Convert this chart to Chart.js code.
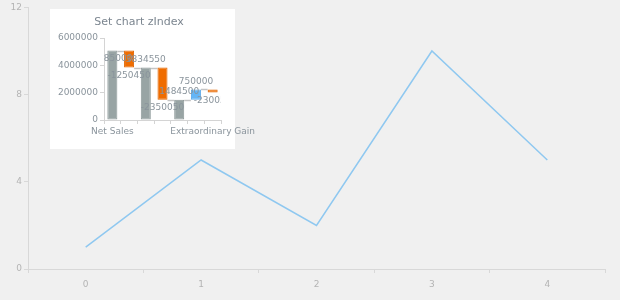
<!DOCTYPE html>
<html>
<head>
<meta charset="utf-8">
<script src="https://cdn.jsdelivr.net/npm/chart.js@4.4.1/dist/chart.umd.min.js"></script>
<style>
  html, body { margin: 0; padding: 0; background: #f0f0f0; }
  #wrap { position: relative; width: 620px; height: 300px; }
  #main { position: absolute; left: 0; top: 0; }
  #insetBox { position: absolute; left: 50px; top: 9px; width: 185px; height: 140px; background: #fff; }
  #inset { position: absolute; left: 50px; top: 9px; }
</style>
</head>
<body>
<div id="wrap">
  <canvas id="main" width="620" height="300"></canvas>
  <div id="insetBox"></div>
  <canvas id="inset" width="230" height="140"></canvas>
</div>
<script>
// main line chart
const lineLabels = ["0", "1", "2", "3", "4"];
const lineValues = [1, 5, 2, 10, 5];
const yTicks = [0, 4, 8, 12];

// inset waterfall (null = running total)
const wfCategories = ["Net Sales", "Cost of Goods Sold", "Gross Income", "Operating Expenses", "Operating Income", "Other Income", "Extraordinary Gain"];
const wfValues = [5085000, -1250450, null, -2350050, null, 750000, -230050];
const wfTicks = [0, 2000000, 4000000, 6000000];

const tickFont = { family: "DejaVu Sans", size: 9 };

new Chart(document.getElementById("main"), {
  type: "line",
  data: {
    labels: lineLabels,
    datasets: [{
      data: lineValues,
      borderColor: "#8fc8f0",
      borderWidth: 1.5,
      pointRadius: 0,
      tension: 0,
    }],
  },
  options: {
    responsive: false,
    animation: false,
    layout: { padding: { top: 7, right: 15, left: 0, bottom: 0 } },
    plugins: { legend: { display: false }, tooltip: { enabled: false } },
    scales: {
      x: {
        offset: true,
        grid: { offset: true, drawOnChartArea: false, tickLength: 4, color: "#d8d8d8" },
        border: { color: "#d8d8d8" },
        ticks: { color: "#b4b4b4", font: tickFont, padding: 6 },
        afterFit: (s) => { s.height = 31; },
      },
      y: {
        min: 0,
        max: 12,
        afterBuildTicks: (s) => { s.ticks = yTicks.map((v) => ({ value: v })); },
        grid: { drawOnChartArea: false, tickLength: 4, color: "#d8d8d8" },
        border: { color: "#d8d8d8" },
        ticks: { color: "#b4b4b4", font: tickFont, padding: 2 },
        afterFit: (s) => { s.width = 28; },
      },
    },
  },
});

// build floating bars from the waterfall values
let running = 0;
const wfRanges = [];
const wfKinds = [];
const wfLabels = [];
wfValues.forEach((v, i) => {
  if (v === null) {
    wfRanges.push([0, running]);
    wfKinds.push("total");
    wfLabels.push(running);
  } else if (i === 0) {
    running = v;
    wfRanges.push([0, v]);
    wfKinds.push("total");
    wfLabels.push(v);
  } else {
    wfRanges.push([running, running + v]);
    running += v;
    wfKinds.push(v < 0 ? "down" : "up");
    wfLabels.push(v);
  }
});
const fillFor = { total: "#98a4a4", down: "#ef6c00", up: "#64b5f6" };
const edgeFor = { total: "#8a9696", down: "#e06500", up: "#58a8ea" };

const connectors = {
  id: "connectors",
  beforeDatasetsDraw(chart) {
    const { ctx, scales: { x, y } } = chart;
    const meta = chart.getDatasetMeta(0);
    ctx.save();
    ctx.strokeStyle = "#c4c4c4";
    ctx.lineWidth = 1.5;
    for (let i = 0; i < wfRanges.length - 1; i++) {
      const level = wfRanges[i][1];
      const a = meta.data[i];
      const b = meta.data[i + 1];
      const yy = Math.round(y.getPixelForValue(level)) + 0.5;
      ctx.beginPath();
      ctx.moveTo(a.x + a.width / 2, yy);
      ctx.lineTo(b.x - b.width / 2, yy);
      ctx.stroke();
    }
    ctx.restore();
  },
};

const valueLabels = {
  id: "valueLabels",
  afterDatasetsDraw(chart) {
    const { ctx, chartArea, scales: { x, y } } = chart;
    ctx.save();
    ctx.beginPath();
    ctx.rect(chartArea.left, chartArea.top, chartArea.right - chartArea.left, chartArea.bottom - chartArea.top);
    ctx.clip();
    ctx.font = "9px 'DejaVu Sans'";
    ctx.fillStyle = "#8a949c";
    ctx.textAlign = "center";
    ctx.textBaseline = "middle";
    wfRanges.forEach((r, i) => {
      const xPos = x.getPixelForValue(i);
      const end = y.getPixelForValue(r[1]);
      let yPos;
      if (wfKinds[i] === "down") yPos = end + 8;
      else if (i === 0) yPos = end + 8;
      else yPos = end - 8;
      ctx.fillText(String(wfLabels[i]), xPos, yPos);
    });
    ctx.restore();
  },
};

const insetTitle = {
  id: "insetTitle",
  afterDraw(chart) {
    const { ctx } = chart;
    ctx.save();
    ctx.font = "11px 'DejaVu Sans'";
    ctx.fillStyle = "#7c8690";
    ctx.textAlign = "center";
    ctx.textBaseline = "middle";
    ctx.fillText("Set chart zIndex", 89, 13);
    ctx.restore();
  },
};

new Chart(document.getElementById("inset"), {
  type: "bar",
  data: {
    labels: wfCategories,
    datasets: [{
      data: wfRanges,
      backgroundColor: wfKinds.map((k) => fillFor[k]),
      borderColor: wfKinds.map((k) => edgeFor[k]),
      borderWidth: 1,
      borderSkipped: false,
      categoryPercentage: 1,
      barPercentage: 0.6,
    }],
  },
  options: {
    responsive: false,
    animation: false,
    layout: { padding: { top: 29, right: 59, left: 0, bottom: 0 } },
    plugins: { legend: { display: false }, tooltip: { enabled: false } },
    scales: {
      x: {
        grid: { offset: true, drawOnChartArea: false, tickLength: 4, color: "#d4d4d4" },
        border: { color: "#d4d4d4" },
        ticks: {
          color: "#8a949c",
          font: tickFont,
          padding: 2,
          autoSkip: false,
          maxRotation: 0,
          callback: (v, i) => (i === 0 || i === wfCategories.length - 1 ? wfCategories[i] : ""),
        },
        afterFit: (s) => { s.height = 29; },
      },
      y: {
        min: 0,
        max: 6000000,
        afterBuildTicks: (s) => { s.ticks = wfTicks.map((v) => ({ value: v })); },
        grid: { drawOnChartArea: false, tickLength: 4, color: "#d4d4d4" },
        border: { color: "#d4d4d4" },
        ticks: { color: "#8a949c", font: tickFont, padding: 2, callback: (v) => String(v) },
        afterFit: (s) => { s.width = 54; },
      },
    },
  },
  plugins: [connectors, valueLabels, insetTitle],
});
</script>
</body>
</html>
